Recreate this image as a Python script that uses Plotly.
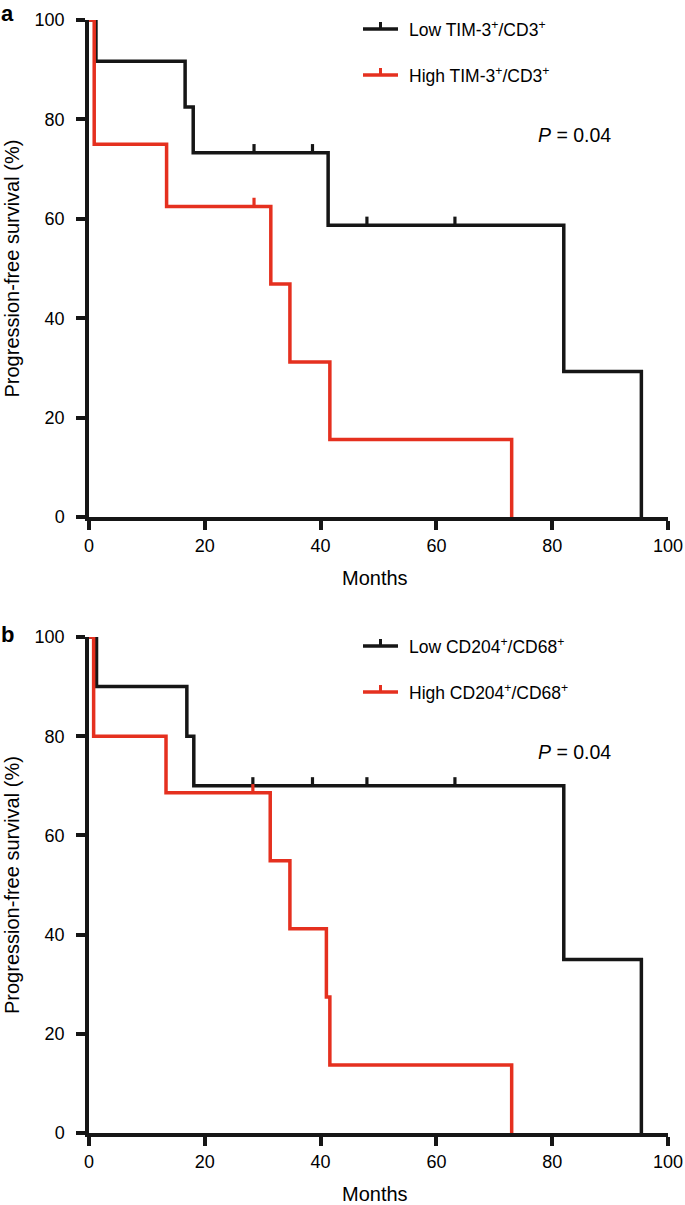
import plotly.graph_objects as go

# ---------------- data ----------------
# Panel a: TIM-3+/CD3+
low_a_time = [0, 1.2, 16.6, 18.0, 41.3, 82.0, 95.4]
low_a_surv = [100, 91.7, 82.5, 73.3, 58.7, 29.3, 0]
low_a_cens_time = [28.5, 38.6, 48.0, 63.2]
low_a_cens_surv = [73.3, 73.3, 58.7, 58.7]

high_a_time = [0, 0.9, 13.4, 31.4, 34.7, 41.6, 73.0]
high_a_surv = [100, 75, 62.5, 46.9, 31.2, 15.6, 0]
high_a_cens_time = [28.5]
high_a_cens_surv = [62.5]

# Panel b: CD204+/CD68+
low_b_time = [0, 1.3, 16.9, 18.1, 82.0, 95.4]
low_b_surv = [100, 90, 80, 70, 35, 0]
low_b_cens_time = [28.3, 38.6, 48.0, 63.2]
low_b_cens_surv = [70, 70, 70, 70]

high_b_time = [0, 0.8, 13.3, 31.3, 34.7, 41.0, 41.6, 73.0]
high_b_surv = [100, 80, 68.6, 54.9, 41.2, 27.4, 13.7, 0]
high_b_cens_time = [28.3]
high_b_cens_surv = [68.6]

x_ticks = [0, 20, 40, 60, 80, 100]
y_ticks = [0, 20, 40, 60, 80, 100]
names_a = ["Low TIM-3<sup>+</sup>/CD3<sup>+</sup>", "High TIM-3<sup>+</sup>/CD3<sup>+</sup>"]
names_b = ["Low CD204<sup>+</sup>/CD68<sup>+</sup>", "High CD204<sup>+</sup>/CD68<sup>+</sup>"]
p_text = "<i>P</i> = 0.04"
x_title = "Months"
y_title = "Progression-free survival (%)"
panel_labels = ["a", "b"]

# ---------------- style ----------------
BLACK = "#161616"
RED = "#E5301F"
FONT = "Liberation Sans, Arial, sans-serif"
LW = 3.5
CENS_OFF = 0.75  # censor tick sits above the curve

W, H = 685, 1205
ML, MR, MT, MB = 89, 17, 20, 72
PW = W - ML - MR
PH = H - MT - MB
top_a, bot_a = 20, 517
top_b, bot_b = 637, 1133


def fy(py):
    return (H - MB - py) / PH


def fx(px):
    return (px - ML) / PW


fig = go.Figure()


def add_group(tt, ss, ct, cs, color, name, xa, ya):
    fig.add_trace(go.Scatter(
        x=tt, y=ss, mode="lines", name=name, line=dict(color=color, width=LW, shape="hv"),
        xaxis=xa, yaxis=ya, showlegend=False, hoverinfo="skip"))
    fig.add_trace(go.Scatter(
        x=ct, y=[v + CENS_OFF for v in cs], mode="markers", name=name,
        marker=dict(symbol="line-ns", size=7, line=dict(color=color, width=3.2)),
        xaxis=xa, yaxis=ya, showlegend=False, cliponaxis=False, hoverinfo="skip"))


add_group(low_a_time, low_a_surv, low_a_cens_time, low_a_cens_surv, BLACK, names_a[0], "x", "y")
add_group(high_a_time, high_a_surv, high_a_cens_time, high_a_cens_surv, RED, names_a[1], "x", "y")
add_group(low_b_time, low_b_surv, low_b_cens_time, low_b_cens_surv, BLACK, names_b[0], "x2", "y2")
add_group(high_b_time, high_b_surv, high_b_cens_time, high_b_cens_surv, RED, names_b[1], "x2", "y2")

axis_common = dict(
    range=[0, 100], showgrid=False, zeroline=False, showline=True, automargin=False,
    linecolor=BLACK, linewidth=3.5, ticks="outside", ticklen=9, tickwidth=3.5,
    tickcolor=BLACK, tickfont=dict(family=FONT, size=18, color="black"), fixedrange=True,
)

xa = dict(axis_common, tickvals=x_ticks, ticklabelstandoff=1)
ya = dict(axis_common, tickvals=y_ticks, ticklabelstandoff=8)

fig.update_layout(
    width=W, height=H,
    margin=dict(l=ML, r=MR, t=MT, b=MB, pad=0),
    paper_bgcolor="white", plot_bgcolor="white",
    font=dict(family=FONT, size=17, color="black"),
    xaxis=dict(xa, domain=[0, 1], anchor="y"),
    yaxis=dict(ya, domain=[fy(bot_a), fy(top_a)], anchor="x"),
    xaxis2=dict(xa, domain=[0, 1], anchor="y2"),
    yaxis2=dict(ya, domain=[fy(bot_b), fy(top_b)], anchor="x2"),
    showlegend=False,
)

# per-panel decorations: legend, P value, axis titles, panel label
for (top, bot, names, lab) in ((top_a, bot_a, names_a, panel_labels[0]),
                               (top_b, bot_b, names_b, panel_labels[1])):
    # manual legend
    for k, (name, color) in enumerate(zip(names, (BLACK, RED))):
        ly = top + 9 + 46 * k
        fig.add_shape(type="line", xref="paper", yref="paper",
                      x0=fx(363), x1=fx(398), y0=fy(ly), y1=fy(ly),
                      line=dict(color=color, width=LW))
        fig.add_shape(type="line", xref="paper", yref="paper",
                      x0=fx(380.5), x1=fx(380.5), y0=fy(ly), y1=fy(ly - 7),
                      line=dict(color=color, width=3))
        fig.add_annotation(x=fx(407), y=fy(ly), xref="paper", yref="paper", text=name,
                           showarrow=False, xanchor="left", yanchor="middle",
                           font=dict(family=FONT, size=17.5, color="black"))
    # P value
    fig.add_annotation(x=fx(613), y=fy(top + 115), xref="paper", yref="paper", text=p_text,
                       showarrow=False, xanchor="right", yanchor="middle",
                       font=dict(family=FONT, size=19.5, color="black"))
    # y title
    fig.add_annotation(x=fx(12), y=fy((top + bot) / 2), xref="paper", yref="paper", text=y_title,
                       textangle=-90, showarrow=False, xanchor="center", yanchor="middle",
                       font=dict(family=FONT, size=20, color="black"))
    # x title
    fig.add_annotation(x=fx(375), y=fy(bot + 61), xref="paper", yref="paper", text=x_title,
                       showarrow=False, xanchor="center", yanchor="middle",
                       font=dict(family=FONT, size=20, color="black"))
    # panel label
    fig.add_annotation(x=fx(0), y=fy(top - 20 if top < 100 else top - 16), xref="paper", yref="paper",
                       text="<b>%s</b>" % lab, showarrow=False, xanchor="left", yanchor="top",
                       borderpad=0, font=dict(family=FONT, size=22, color="black"))

fig.write_html("out.html", config={"displayModeBar": False},
               post_script="document.body.style.margin='0';document.body.style.padding='0';")
